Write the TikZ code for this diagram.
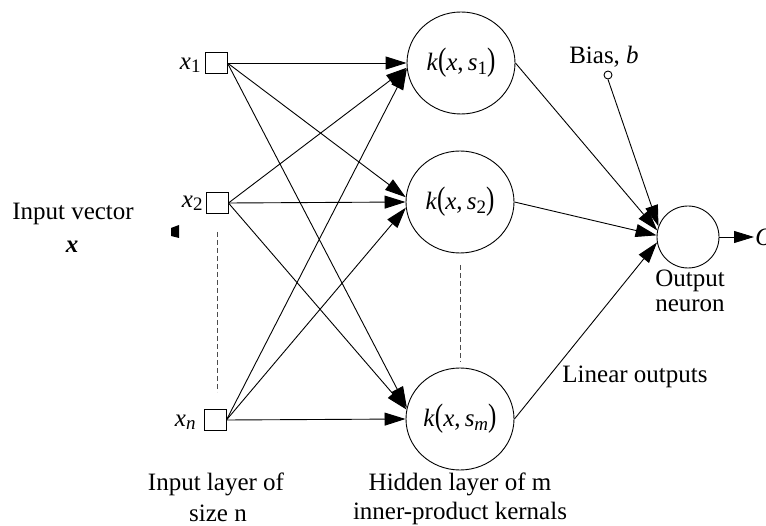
\documentclass[tikz,border=0pt]{standalone}
\usepackage{fontspec}
\usepackage{graphicx}
\setmainfont{Liberation Serif}
\usetikzlibrary{arrows.meta,shapes.geometric}
\newcommand{\mysub}[1]{\raisebox{-0.3ex}{\fontsize{19}{20}\selectfont #1}}
\newcommand{\kxs}[1]{\textit{k}\scalebox{1}[1.3]{(}\textit{x},\,\textit{s}\mysub{#1}\scalebox{1}[1.3]{)}}
\begin{document}
\begin{tikzpicture}[x=1pt,y=-1pt,line width=0.9pt,
  every node/.style={font=\fontsize{25}{29}\selectfont},
  inbox/.style={draw, rectangle, minimum width=22pt, minimum height=21pt, inner sep=0pt},
  kern/.style={draw, ellipse, minimum width=108pt, minimum height=102pt, inner sep=0pt},
  neuron/.style={draw, circle, minimum size=62pt, inner sep=0pt},
  biasdot/.style={draw, circle, minimum size=8pt, inner sep=0pt},
  conn/.style={-{Triangle[length=21pt,width=13pt]}},
  guide/.style={dashed, dash pattern=on 5pt off 3pt, line width=0.7pt, draw=black!70},
  lbl/.style={inner sep=0pt}]
\useasboundingbox (0,0) rectangle (766,526);
\clip (0,0) rectangle (766,526);

% input layer
\node[inbox] (i1) at (216,63) {};
\node[inbox] (i2) at (217,203) {};
\node[inbox] (in) at (215,420) {};
\node[lbl, anchor=east] (l1) at (201,65) {\textit{x}\mysub{1}};
\node[lbl, anchor=east] (l2) at (203,203) {\textit{x}\mysub{2}};
\node[lbl, anchor=east] (ln) at (196,422) {\textit{x}\mysub{\textit{n}}};

% hidden layer
\node[kern] (h1) at (461,63) {\kxs{1}};
\node[kern] (h2) at (460,202) {\kxs{2}};
\node[kern] (hm) at (460,419) {\kxs{\textit{m}}};

% output neuron and bias
\node[neuron] (out) at (688,237) {};
\node[biasdot] (bias) at (608,75) {};
\coordinate (oend) at (754,237);

% dashed guides
\coordinate (d1a) at (217,232);
\coordinate (d1b) at (217,392);
\coordinate (d2a) at (460,265);
\coordinate (d2b) at (460,362);
\draw[guide] (d1a) -- (d1b);
\draw[guide] (d2a) -- (d2b);

% input -> hidden
\draw[conn] (i1.east) -- (h1.180);
\draw[conn] (i1.east) -- (h2.175);
\draw[conn] (i1.east) -- (hm.168);
\draw[conn] (i2.east) -- (h1.185);
\draw[conn] (i2.east) -- (h2.180);
\draw[conn] (i2.east) -- (hm.170);
\draw[conn] (in.east) -- (h1.186);
\draw[conn] (in.east) -- (h2.186);
\draw[conn] (in.east) -- (hm.180);

% hidden -> output
\draw[conn] (h1.east) -- (out.168);
\draw[conn] (h2.east) -- (out.177);
\draw[conn] (hm.east) -- (out.190);
\draw[conn] (bias.south) -- (out.160);
\draw[-{Triangle[length=20pt,width=12pt]}] (out.east) -- (oend);
\node[lbl, anchor=west] (olbl) at (755,237) {\textit{O}};

% input vector marker
\fill (171,228) -- (179,225) -- (179,238) -- (171,236) -- cycle;

% labels
\node[lbl] (iv) at (73,214) {Input vector};
\node[lbl] (ivx) at (72,247) {\textbf{\textit{x}}};
\node[lbl] (bl) at (604,57) {Bias, \textit{b}};
\node[lbl] (on1) at (690,281) {Output};
\node[lbl] (on2) at (690,306) {neuron};
\node[lbl, anchor=west] (lo) at (562,377) {Linear outputs};
\node[lbl] (il1) at (216,484) {Input layer of};
\node[lbl] (il2) at (218,513) {size n};
\node[lbl] (hl1) at (460,484) {Hidden layer of m};
\node[lbl] (hl2) at (460,513) {inner-product kernals};
\end{tikzpicture}
\end{document}
